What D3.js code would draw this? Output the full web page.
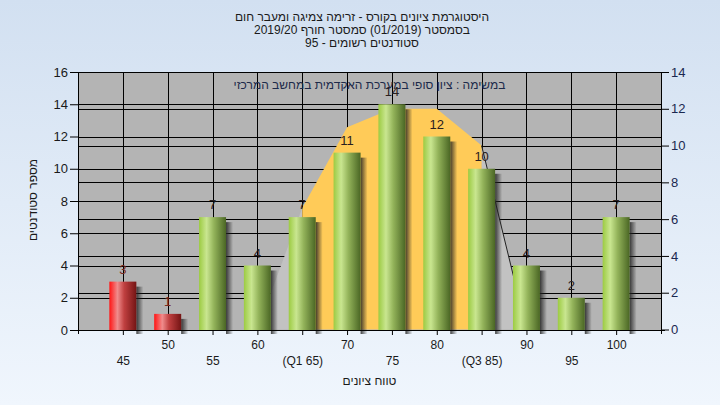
<!DOCTYPE html>
<html><head><meta charset="utf-8">
<script src="https://cdn.jsdelivr.net/npm/d3@7"></script>
<style>body{margin:0;background:#fff;} svg{display:block;}</style>
</head><body>
<svg id="chart" width="720" height="405"></svg>
<script>
// ---- data ----
const categories = ["45","50","55","60","65","70","75","80","85","90","95","100"];
const tickLabels = ["45","50","55","60","(Q1 65)","70","75","80","(Q3 85)","90","95","100"];
const counts = [3, 1, 7, 4, 7, 11, 14, 12, 10, 4, 2, 7];
const failing = [true, true, false, false, false, false, false, false, false, false, false, false];
// curve (drawn against right axis)
const curveValues = [null, null, null, 0, 6.6, 11, 12, 12, 10, 0, null, null];
const q1Category = "65";
const q3Category = "85";
const leftTicks = [0, 2, 4, 6, 8, 10, 12, 14, 16];
const rightTicks = [0, 2, 4, 6, 8, 10, 12, 14];
const titleLines = [
  "היסטוגרמת ציונים בקורס - זרימה צמיגה ומעבר חום",
  "בסמסטר  (01/2019)  סמסטר חורף 2019/20",
  "סטודנטים רשומים - 95"
];
const subTitle = "במשימה : ציון סופי במערכת האקדמית במחשב המרכזי";
const xTitle = "טווח ציונים";
const yTitle = "מספר סטודנטים";

// ---- layout ----
const W = 720, H = 405;
const P = {left: 78, right: 661, top: 72, bottom: 330};
const FONT = "'Liberation Sans', Arial, 'DejaVu Sans', sans-serif";

const svg = d3.select("#chart");
const defs = svg.append("defs");

// background gradient
const bg = defs.append("linearGradient").attr("id","bg").attr("x1",0).attr("y1",0).attr("x2",0).attr("y2",1);
bg.append("stop").attr("offset","0%").attr("stop-color","#d2e0f1");
bg.append("stop").attr("offset","100%").attr("stop-color","#f0f6fd");
svg.append("rect").attr("width",W).attr("height",H).attr("fill","url(#bg)");

function barGrad(id, stops){
  const g = defs.append("linearGradient").attr("id",id).attr("x1",0).attr("y1",0).attr("x2",1).attr("y2",0);
  stops.forEach(s => g.append("stop").attr("offset",s[0]).attr("stop-color",s[1]));
}
barGrad("gGreen", [["0%","#9ccb42"],["28%","#c9e690"],["55%","#93b35a"],["100%","#4a6624"]]);
barGrad("gRed", [["0%","#ff1414"],["30%","#f08c8c"],["55%","#c04040"],["100%","#741414"]]);
const sh = defs.append("linearGradient").attr("id","gShadow").attr("x1",0).attr("y1",0).attr("x2",1).attr("y2",0);
sh.append("stop").attr("offset","0%").attr("stop-color","#222").attr("stop-opacity",0.85);
sh.append("stop").attr("offset","100%").attr("stop-color","#222").attr("stop-opacity",0);

// scales
const x = d3.scalePoint().domain(categories).range([P.left, P.right]).padding(1);
const yL = d3.scaleLinear().domain([0,16]).range([P.bottom, P.top]);
const yR = d3.scaleLinear().domain([0,14]).range([P.bottom-0.5, P.top]);

// plot background
svg.append("rect").attr("x",P.left).attr("y",P.top).attr("width",P.right-P.left).attr("height",P.bottom-P.top).attr("fill","#b4b4b4");

// gridlines
const grid = svg.append("g").attr("stroke","#000").attr("stroke-width",1).attr("shape-rendering","crispEdges");
leftTicks.forEach(v => grid.append("line").attr("x1",P.left).attr("x2",P.right).attr("y1",Math.round(yL(v))+0.5).attr("y2",Math.round(yL(v))+0.5));
rightTicks.forEach(v => grid.append("line").attr("x1",P.left).attr("x2",P.right).attr("y1",Math.round(yR(v))+0.5).attr("y2",Math.round(yR(v))+0.5));
categories.forEach(c => grid.append("line").attr("x1",Math.round(x(c))+0.5).attr("x2",Math.round(x(c))+0.5).attr("y1",P.top).attr("y2",P.bottom));

// curve area
const curvePts = categories.map((c,i)=>({c, v: curveValues[i]})).filter(d => d.v !== null);
const area = d3.area().x(d => x(d.c)).y0(yR(0)).y1(d => yR(d.v));
const xq1 = x(q1Category), xq3 = x(q3Category);
defs.append("clipPath").attr("id","clipIQR").append("rect").attr("x",xq1).attr("y",P.top).attr("width",xq3-xq1).attr("height",P.bottom-P.top);
const cOut = defs.append("clipPath").attr("id","clipOut");
cOut.append("rect").attr("x",P.left).attr("y",P.top).attr("width",xq1-P.left).attr("height",P.bottom-P.top);
cOut.append("rect").attr("x",xq3).attr("y",P.top).attr("width",P.right-xq3).attr("height",P.bottom-P.top);
svg.append("path").datum(curvePts).attr("d",area).attr("fill","#c2c2c2").attr("clip-path","url(#clipOut)");
svg.append("path").datum(curvePts).attr("d",area).attr("fill","#ffcb58").attr("clip-path","url(#clipIQR)");
const rightSeg = curvePts.filter(d => categories.indexOf(d.c) >= categories.indexOf(q3Category));
svg.append("path").datum(rightSeg).attr("d", d3.line().x(d=>x(d.c)).y(d=>yR(d.v))).attr("fill","none").attr("stroke","#222").attr("stroke-width",1);

// subtitle inside plot
svg.append("text").attr("x",(P.left+P.right)/2).attr("y",89).attr("text-anchor","middle")
  .attr("font-family",FONT).attr("font-size",12).attr("fill","#1c2a4a").text(subTitle);

// bars
const bw = 27;
const bars = svg.append("g");
categories.forEach((c,i) => {
  const top = yL(counts[i]);
  bars.append("rect").attr("x",x(c)+bw/2).attr("y",top+5).attr("width",7).attr("height",P.bottom-top-5+4).attr("fill","url(#gShadow)");
  bars.append("rect").attr("x",x(c)-bw/2).attr("y",top).attr("width",bw).attr("height",P.bottom-top)
    .attr("fill", failing[i] ? "url(#gRed)" : "url(#gGreen)");
  bars.append("text").attr("x",x(c)).attr("y",top-8).attr("text-anchor","middle")
    .attr("font-family",FONT).attr("font-size",13).attr("fill", failing[i] ? "#7a2a20" : "#2a2020").text(counts[i]);
});

// axes frame
const ax = svg.append("g").attr("stroke","#000").attr("stroke-width",1).attr("shape-rendering","crispEdges");
ax.append("line").attr("x1",P.left+0.5).attr("x2",P.left+0.5).attr("y1",P.top).attr("y2",P.bottom+4);
ax.append("line").attr("x1",P.right+0.5).attr("x2",P.right+0.5).attr("y1",P.top).attr("y2",P.bottom+4);
ax.append("line").attr("x1",P.left).attr("x2",P.right+4).attr("y1",P.bottom+0.5).attr("y2",P.bottom+0.5);
ax.append("line").attr("x1",P.left).attr("x2",P.right).attr("y1",P.top+0.5).attr("y2",P.top+0.5);

// left axis
const gl = svg.append("g").attr("transform",`translate(${P.left},0)`)
  .call(d3.axisLeft(yL).tickValues(leftTicks).tickSize(8).tickPadding(2));
gl.select(".domain").remove();
gl.selectAll("line").attr("stroke","#000");
gl.selectAll("text").attr("font-family",FONT).attr("font-size",13).attr("fill","#1a1a1a");

// right axis
const gr = svg.append("g").attr("transform",`translate(${P.right},0)`)
  .call(d3.axisRight(yR).tickValues(rightTicks).tickSize(8).tickPadding(2));
gr.select(".domain").remove();
gr.selectAll("line").attr("stroke","#000");
gr.selectAll("text").attr("font-family",FONT).attr("font-size",13).attr("fill","#1a2850");

// bottom axis
const gb = svg.append("g").attr("transform",`translate(0,${P.bottom})`)
  .call(d3.axisBottom(x).tickSize(5).tickFormat((d,i)=>tickLabels[i]));
gb.select(".domain").remove();
gb.selectAll("line").attr("stroke","#000");
gb.selectAll("text").attr("font-family",FONT).attr("font-size",12).attr("fill","#1a1a1a")
  .attr("dy",null).attr("y",(d,i)=> i%2===1 ? 19 : 35);

// titles
titleLines.forEach((t,i) => {
  svg.append("text").attr("x",362).attr("y",21+i*13).attr("text-anchor","middle")
    .attr("font-family",FONT).attr("font-size",12).attr("fill","#1a1a1a").text(t);
});
svg.append("text").attr("x",(P.left+P.right)/2).attr("y",385).attr("text-anchor","middle")
  .attr("font-family",FONT).attr("font-size",12).attr("fill","#1a1a1a").text(xTitle);
svg.append("text").attr("transform","translate(37,200) rotate(-90)").attr("text-anchor","middle")
  .attr("font-family",FONT).attr("font-size",12).attr("fill","#1a1a1a").text(yTitle);
</script>
</body></html>
